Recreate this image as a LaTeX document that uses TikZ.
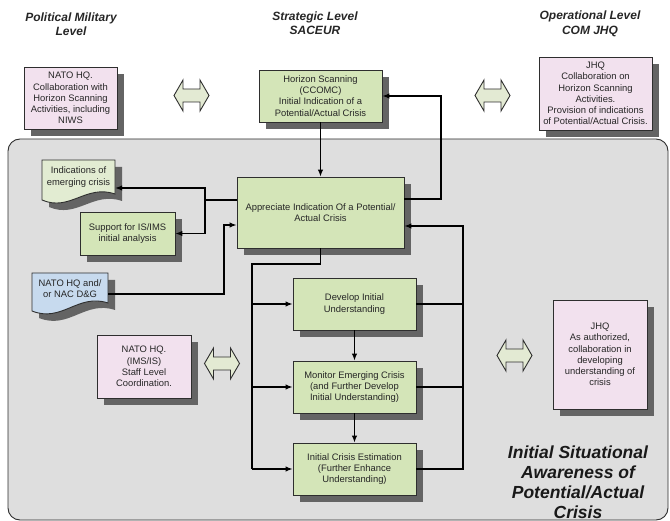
\documentclass[tikz,border=0pt]{standalone}
\usepackage{fontspec}
\setmainfont{Liberation Sans}
\usetikzlibrary{arrows.meta}
\definecolor{gfill}{HTML}{D4E5B8}
\definecolor{pfill}{HTML}{F2E1EE}
\definecolor{bfill}{HTML}{C7DAEE}
\definecolor{dfill}{HTML}{E2ECD2}
\definecolor{afill}{HTML}{E3EAD3}
\definecolor{bgray}{HTML}{DEDEDE}
\definecolor{shadowgrey}{RGB}{100,100,100}
\definecolor{edgecol}{HTML}{2E2E2E}
\definecolor{txtcol}{HTML}{262626}
\begin{document}
\begin{tikzpicture}[x=1pt,y=-1pt,
  boxtext/.style={align=center,text=txtcol,font=\fontsize{9.4}{11.2}\selectfont},
  box/.style={boxtext,draw=edgecol,line width=0.9pt,inner sep=1pt},
  gbox/.style={box,fill=gfill},
  pbox/.style={box,fill=pfill},
  doctext/.style={boxtext,inner sep=0pt},
  header/.style={align=center,font=\fontsize{12}{14.5}\selectfont\bfseries\itshape,text=black!85},
  titletext/.style={align=center,font=\fontsize{17.5}{20}\selectfont\bfseries\itshape,text=black!90},
  conn/.style={line width=1.2pt,draw=black},
  arr/.style={-{Latex[length=7pt,width=5.5pt]}},
  shadowbox/.style={fill=shadowgrey,draw=none},
  dastyle/.style={draw=edgecol,line width=0.9pt,fill=afill,line join=miter},
  dblarr/.pic={\draw[dastyle] (-17.5,0) -- (-8.5,-15.5) -- (-8.5,-6.5) -- (8.5,-6.5) -- (8.5,-15.5) -- (17.5,0) -- (8.5,15.5) -- (8.5,6.5) -- (-8.5,6.5) -- (-8.5,15.5) -- cycle;}
]
\useasboundingbox (0,0) rectangle (670,521);

% background panel
\draw[fill=bgray,draw=edgecol,line width=0.9pt,rounded corners=12pt] (8,139) rectangle (668,520);

% shadows (box corners shifted by 7)
\fill[shadowbox] (31,74) rectangle (124,136);      % nato1
\fill[shadowbox] (266,77) rectangle (389,129);     % hs
\fill[shadowbox] (546,64) rectangle (659,137);     % jhq1
\fill[shadowbox] (87,219) rectangle (182,262);     % sup
\fill[shadowbox] (244,184) rectangle (411,255);    % app
\fill[shadowbox] (300,285) rectangle (423,337);    % dev
\fill[shadowbox] (300,368) rectangle (423,420);    % mon
\fill[shadowbox] (300,450) rectangle (423,502);    % ice
\fill[shadowbox] (104,342) rectangle (198,405);    % nato2
\fill[shadowbox] (560,307) rectangle (654,416);    % jhq2
\fill[shadowbox] (49,167) -- (122,167) -- (122,201) .. controls (93,191) and (77,219) .. (49,207) -- cycle;
\fill[shadowbox] (39,280) -- (115,280) -- (115,310) .. controls (85,300) and (69,330) .. (39,318) -- cycle;

% headers
\node[header] (h1) at (71,24) {Political Military\\Level};
\node[header] (h2) at (315,23) {Strategic Level\\SACEUR};
\node[header] (h3) at (590,24) {Operational Level\\COM JHQ};

% top row
\node[pbox,minimum width=93,minimum height=62] (nato1) at (70.5,98) {NATO HQ.\\Collaboration with\\Horizon Scanning\\Activities, including\\NIWS};
\node[gbox,minimum width=123,minimum height=52] (hs) at (320.5,96) {Horizon Scanning\\(CCOMC)\\Initial Indication of a\\Potential/Actual Crisis};
\node[pbox,minimum width=113,minimum height=73] (jhq1) at (595.5,93.5) {JHQ\\Collaboration on\\Horizon Scanning\\Activities.\\Provision of indications\\of Potential/Actual Crisis.};
\pic at (191.5,95.5) {dblarr};
\pic at (492.5,95.5) {dblarr};

% documents
\draw[fill=dfill,draw=edgecol,line width=0.9pt] (42,160) -- (115,160) -- (115,194) .. controls (86,184) and (70,212) .. (42,200) -- cycle;
\node[doctext,minimum width=73,minimum height=30] (ind) at (78.5,177) {Indications of\\emerging crisis};
\draw[fill=bfill,draw=edgecol,line width=0.9pt] (32,273) -- (108,273) -- (108,303) .. controls (78,293) and (62,323) .. (32,311) -- cycle;
\node[doctext,minimum width=76,minimum height=28] (natodoc) at (70,288.5) {NATO HQ and/\\or NAC D\&G};

% main boxes
\node[gbox,minimum width=95,minimum height=43] (sup) at (127.5,233.5) {Support for IS/IMS\\initial analysis};
\node[gbox,minimum width=167,minimum height=71] (app) at (320.5,212.5) {Appreciate Indication Of a Potential/\\Actual Crisis};
\node[gbox,minimum width=123,minimum height=52] (dev) at (354.5,304) {Develop Initial\\Understanding};
\node[gbox,minimum width=123,minimum height=52] (mon) at (354.5,387) {Monitor Emerging Crisis\\(and Further Develop\\Initial Understanding)};
\node[gbox,minimum width=123,minimum height=52] (ice) at (354.5,469) {Initial Crisis Estimation\\(Further Enhance\\Understanding)};
\node[pbox,minimum width=94,minimum height=63] (nato2) at (144,366.5) {NATO HQ.\\(IMS/IS)\\Staff Level\\Coordination.};
\node[pbox,minimum width=94,minimum height=109] (jhq2) at (600,354.5) {JHQ\\As authorized,\\collaboration in\\developing\\understanding of\\crisis};
\pic at (222,363.5) {dblarr};
\pic at (514.5,355.5) {dblarr};

\node[titletext] (ttl) at (578,482) {Initial Situational\\Awareness of\\Potential/Actual\\Crisis};

% connectors
\draw[conn,arr] (hs.south) -- (app.north);
\coordinate (r1) at (441,199);
\draw[conn,arr] (app.east |- r1) -- (r1) |- (hs.east);

\coordinate (l1) at (205,200);
\coordinate (l2) at (205,188);
\draw[conn] (app.west |- l1) -- (l1);
\draw[conn,arr] (l1) -- (l2) -- (ind.east |- l2);
\draw[conn,arr] (l1) |- (sup.east);

\coordinate (n1) at (224,294);
\coordinate (n2) at (224,225);
\draw[conn,arr] (natodoc.east |- n1) -- (n1) -- (n2) -- (app.west |- n2);

\coordinate (b1) at (320.5,264);
\coordinate (b2) at (252,264);
\draw[conn] (app.south) -- (b1) -- (b2) -- (b2 |- ice.west);
\draw[conn,arr] (b2 |- dev.west) -- (dev.west);
\draw[conn,arr] (b2 |- mon.west) -- (mon.west);
\draw[conn,arr] (b2 |- ice.west) -- (ice.west);

\draw[conn,arr] (dev.south) -- (mon.north);
\draw[conn,arr] (mon.south) -- (ice.north);

\coordinate (f1) at (463,226);
\draw[conn] (dev.east) -- (dev.east -| f1);
\draw[conn] (mon.east) -- (mon.east -| f1);
\draw[conn,arr] (ice.east) -| (f1) -- (app.east |- f1);
\end{tikzpicture}
\end{document}
